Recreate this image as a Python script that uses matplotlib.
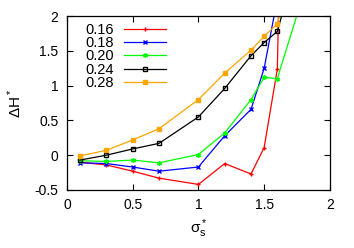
import numpy as np
import matplotlib
matplotlib.use("Agg")
import matplotlib.pyplot as plt

plt.rcParams['font.family'] = ['Liberation Sans', 'DejaVu Sans']
plt.rcParams['mathtext.fontset'] = 'custom'
plt.rcParams['mathtext.rm'] = 'Liberation Sans'
plt.rcParams['mathtext.it'] = 'Liberation Sans'
plt.rcParams['mathtext.default'] = 'regular'

# data
x_pts = [0.1, 0.3, 0.5, 0.7, 1.0, 1.2, 1.4, 1.5, 1.6, 1.7, 1.8]
labels = ['0.16', '0.18', '0.20', '0.24', '0.28']
y016 = [-0.10, -0.14, -0.23, -0.33, -0.42, -0.12, -0.27, 0.11, 1.24, 10.0, None]
y018 = [-0.11, -0.12, -0.17, -0.23, -0.17, 0.28, 0.66, 1.25, 2.25, None, None]
y020 = [-0.08, -0.09, -0.07, -0.11, 0.01, 0.32, 0.80, 1.12, 1.10, None, 2.33]
y024 = [-0.07, 0.00, 0.09, 0.17, 0.55, 0.96, 1.43, 1.62, 1.78, 2.45, None]
y028 = [-0.01, 0.07, 0.22, 0.38, 0.80, 1.18, 1.51, 1.71, 1.89, 2.60, None]

colors = ['#ff0000', '#0000ff', '#00ff00', '#000000', '#ffa500']
markers = ['+', 'x', (6, 2, 0), 's', 's']
fills = ['full', 'full', 'full', 'none', 'full']

fig = plt.figure(figsize=(3.54, 2.48), dpi=100)
ax = fig.add_axes([0.189, 0.234, 0.743, 0.701])

for ys, lab, c, m, f in zip([y016, y018, y020, y024, y028], labels, colors, markers, fills):
    xs = [x for x, y in zip(x_pts, ys) if y is not None]
    yv = [y for y in ys if y is not None]
    ax.plot(xs, yv, color=c, lw=0.9, marker=m, ms=3.3, mew=1.0, fillstyle=f,
            mfc=(c if f == 'full' else 'none'), label=lab)

ax.set_xlim(0, 2)
ax.set_ylim(-0.5, 2)
ax.set_xticks([0, 0.5, 1, 1.5, 2])
ax.set_xticklabels(['0', '0.5', '1', '1.5', '2'])
ax.set_yticks([-0.5, 0, 0.5, 1, 1.5, 2])
ax.set_yticklabels(['-0.5', '0', '0.5', '1', '1.5', '2'])
ax.tick_params(direction='in', top=True, right=True, length=4, width=0.8,
               labelsize=10, pad=6)
for s in ax.spines.values():
    s.set_linewidth(0.9)

ax.set_xlabel(r'$\sigma^*_s$', fontsize=11, labelpad=4)
ax.set_ylabel(r'$\Delta H^*$', fontsize=11, labelpad=8)

ax.legend(loc='upper left', bbox_to_anchor=(0.03, 1.02), frameon=False,
          markerfirst=False, fontsize=10.5, handlelength=2.9, labelspacing=-0.05,
          handletextpad=0.7, borderaxespad=0.3)

fig.savefig('out.png', dpi=100)
